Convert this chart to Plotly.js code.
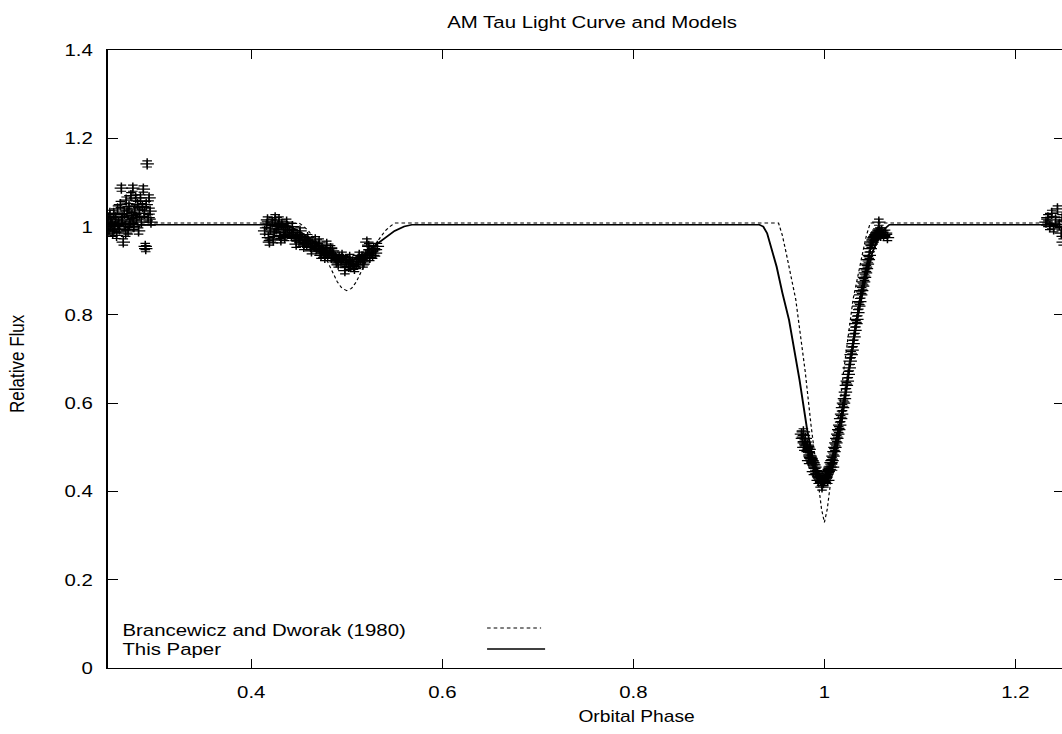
<!DOCTYPE html>
<html>
<head>
<meta charset="utf-8">
<script src="https://cdn.plot.ly/plotly-3.0.1.min.js"></script>
<style>
html,body{margin:0;padding:0;overflow:hidden;background:#fff;width:1062px;height:734px;}
#chart{width:892px;height:734px;transform:scaleX(1.2);transform-origin:0 0;}
</style>
</head>
<body>
<div id="chart"></div>
<script>
// ---- Observed light curve (phase, relative flux) ----
var obsPhaseA = [0.250,0.251,0.252,0.253,0.254,0.255,0.256,0.257,0.258,0.259,0.260,0.261,0.262,0.263,0.264,0.265,0.266,0.267,0.268,0.269,0.270,0.271,0.272,0.273,0.274,0.275,0.276,0.277,0.278,0.279,0.280,0.281,0.282,0.283,0.284,0.285,0.286,0.287,0.288,0.289,0.2895,0.290,0.291,0.292,0.293,0.294,0.295,0.2525,0.2565,0.2605,0.2645,0.2685,0.2725,0.2765];
var obsFluxA  = [1.020,0.990,1.030,1.000,1.010,0.985,1.030,1.000,1.020,0.980,1.040,1.010,0.995,1.050,1.087,1.020,0.965,1.030,1.000,1.060,1.035,0.990,1.045,1.010,1.070,1.025,1.087,1.000,1.040,1.065,1.020,1.050,0.990,1.030,1.065,1.010,1.045,1.085,1.030,0.955,0.950,1.050,1.142,1.020,1.065,1.035,1.010,1.010,0.995,1.000,1.015,0.985,1.005,1.015];

var obsPhaseB = [0.414,0.416,0.418,0.420,0.422,0.424,0.426,0.428,0.430,0.432,0.434,0.436,0.438,0.440,0.442,0.444,0.446,0.448,0.450,0.452,0.454,0.456,0.458,0.460,0.462,0.464,0.466,0.468,0.470,0.472,0.474,0.476,0.478,0.480,0.482,0.484,0.486,0.488,0.490,0.492,0.494,0.496,0.498,0.500,0.502,0.504,0.506,0.508,0.510,0.512,0.514,0.516,0.518,0.520,0.521,0.522,0.524,0.526,0.528,0.530,0.532,0.417,0.423,0.429,0.435,0.471,0.477,0.483,0.489,
                 0.443,0.447,0.451,0.455,0.459,0.463,0.467,0.473,0.479,0.485,0.491,0.495,0.499,0.503,0.507,0.513,0.517,0.523,0.527,0.419,0.425,0.431,0.437];
var obsFluxB  = [0.990,1.005,0.975,0.995,1.010,0.985,0.995,1.000,0.980,1.005,0.995,0.985,1.000,0.990,0.980,0.985,0.975,0.980,0.970,0.975,0.965,0.970,0.960,0.965,0.955,0.960,0.955,0.950,0.955,0.945,0.950,0.940,0.945,0.935,0.940,0.930,0.935,0.930,0.925,0.930,0.920,0.925,0.900,0.920,0.910,0.915,0.920,0.905,0.915,0.920,0.925,0.930,0.920,0.935,0.965,0.940,0.930,0.945,0.950,0.940,0.955,1.015,0.970,1.015,0.975,0.965,0.930,0.950,0.920,
                 1.000,0.960,0.990,0.955,0.975,0.945,0.970,0.935,0.960,0.945,0.915,0.935,0.925,0.930,0.910,0.935,0.915,0.955,0.935,0.965,1.020,0.970,1.010];

var obsPhaseC = [0.976,0.977,0.978,0.979,0.980,0.981,0.982,0.983,0.984,0.985,0.986,0.987,0.988,0.989,0.990,0.991,0.992,0.993,0.994,0.995,0.996,0.997,0.998,0.999,1.000,1.001,1.002,1.003,1.004,1.005,1.006,1.007,1.008,1.009,1.010,1.011,1.012,1.013,1.014,1.015,1.016,1.017,1.018,1.019,1.020,1.021,1.022,1.023,1.024,1.025,1.026,1.027,1.028,1.029,1.030,1.031,1.032,1.033,1.034,1.035,1.036,1.037,1.038,1.039,1.040,1.041,1.042,1.043,1.044,1.045,1.046,1.047,1.048,1.049,1.050,1.051,1.052,1.053,1.054,1.055,1.056,1.057,1.058,1.059,1.060,1.062,1.064,1.066,1.057,0.9785,0.9835,0.9885,0.9935,0.9975,1.0035,1.0085];
var obsFluxC  = [0.530,0.520,0.535,0.510,0.520,0.500,0.505,0.490,0.495,0.480,0.475,0.470,0.465,0.460,0.455,0.445,0.440,0.440,0.435,0.430,0.425,0.420,0.425,0.420,0.425,0.430,0.435,0.440,0.445,0.450,0.455,0.465,0.470,0.480,0.490,0.500,0.510,0.520,0.530,0.540,0.550,0.565,0.575,0.590,0.600,0.610,0.625,0.640,0.650,0.665,0.680,0.695,0.710,0.720,0.735,0.750,0.765,0.780,0.790,0.805,0.820,0.830,0.845,0.855,0.865,0.875,0.885,0.895,0.905,0.915,0.925,0.935,0.950,0.960,0.965,0.970,0.975,0.978,0.980,0.985,0.988,0.985,0.990,0.980,0.990,0.980,0.985,0.975,1.010,0.500,0.470,0.445,0.425,0.410,0.425,0.455];

var obsPhaseD = [1.232,1.234,1.236,1.238,1.240,1.242,1.244,1.246,1.248,1.249,1.250];
var obsFluxD  = [1.010,1.020,1.000,1.030,0.995,1.015,1.040,1.005,0.985,1.020,0.965];

var obsErr = 0.007;

// ---- Brancewicz and Dworak (1980) model ----
var bdPhase = [0.25,0.450,0.455,0.46,0.47,0.48,0.49,0.495,0.50,0.505,0.51,0.52,0.53,0.54,0.545,0.55,0.952,0.956,0.960,0.970,0.980,0.986,0.993,0.997,1.000,1.003,1.007,1.014,1.020,1.030,1.040,1.044,1.048,1.25];
var bdFlux  = [1.008,1.008,1.000,0.990,0.960,0.920,0.875,0.860,0.855,0.860,0.875,0.920,0.960,0.990,1.000,1.008,1.008,0.980,0.940,0.835,0.670,0.550,0.430,0.360,0.330,0.360,0.430,0.550,0.670,0.835,0.940,0.980,1.008,1.008];

// ---- This Paper model ----
var tpPhase = [0.25,0.430,0.440,0.450,0.460,0.470,0.480,0.490,0.500,0.510,0.520,0.530,0.540,0.550,0.560,0.568,0.932,0.936,0.940,0.945,0.950,0.956,0.963,0.974,0.982,0.988,0.994,1.000,1.005,1.010,1.018,1.026,1.034,1.042,1.050,1.056,1.062,1.068,1.25];
var tpFlux  = [1.004,1.004,1.000,0.990,0.975,0.958,0.942,0.928,0.922,0.926,0.940,0.958,0.975,0.990,1.000,1.004,1.004,1.000,0.985,0.950,0.909,0.850,0.788,0.652,0.539,0.475,0.435,0.420,0.430,0.465,0.555,0.675,0.785,0.870,0.940,0.972,0.993,1.004,1.004];

var legendLabels = ["Brancewicz and Dworak (1980)", "This Paper"];
var titleText = "AM Tau Light Curve and Models";
var xTitle = "Orbital Phase";
var yTitle = "Relative Flux";

var FONT = "Liberation Sans, Arial, Helvetica, sans-serif";
var FS = 17;

function obsTrace(px, fy) {
  return {
    x: px, y: fy, type: "scatter", mode: "markers", showlegend: false,
    marker: {symbol: "cross-thin-open", size: 8, color: "#000", line: {color: "#000", width: 1.25}},
    error_y: {type: "constant", value: obsErr, width: 4, thickness: 1.2, color: "#000"},
    hoverinfo: "skip"
  };
}

var traces = [
  {x: bdPhase, y: bdFlux, type: "scatter", mode: "lines", showlegend: false, hoverinfo: "skip",
   line: {color: "#000", width: 1, dash: "3px,2.5px"}},
  {x: tpPhase, y: tpFlux, type: "scatter", mode: "lines", showlegend: false, hoverinfo: "skip",
   line: {color: "#000", width: 1.6}},
  obsTrace(obsPhaseA, obsFluxA),
  obsTrace(obsPhaseB, obsFluxB),
  obsTrace(obsPhaseC, obsFluxC),
  obsTrace(obsPhaseD, obsFluxD)
];

// pixel helpers (final picture coordinates -> paper fractions)
function px(x) { return (x - 108) / 955; }
function py(y) { return (668 - y) / 618; }

var layout = {
  width: 892, height: 734,
  margin: {l: 90, r: 6, t: 50, b: 66},
  paper_bgcolor: "#fff", plot_bgcolor: "#fff",
  font: {family: FONT, size: FS, color: "#000"},
  hovermode: false,
  title: {text: titleText, font: {family: FONT, size: FS, color: "#000"},
          x: px(592), xref: "paper", xanchor: "center", y: 1 - 22/734, yref: "container", yanchor: "middle"},
  showlegend: false,
  xaxis: {
    range: [0.25, 1.25], tickvals: [0.4, 0.6, 0.8, 1.0, 1.2], ticktext: ["0.4","0.6","0.8","1","1.2"],
    ticks: "inside", ticklen: 9, tickwidth: 1, tickcolor: "#000",
    showline: true, linecolor: "#000", linewidth: 1.3, mirror: "allticks",
    showgrid: false, zeroline: false, ticklabelstandoff: 8,
    tickfont: {family: FONT, size: FS, color: "#000"}
  },
  yaxis: {
    range: [0, 1.4], tickvals: [0, 0.2, 0.4, 0.6, 0.8, 1.0, 1.2, 1.4], ticktext: ["0","0.2","0.4","0.6","0.8","1","1.2","1.4"],
    ticks: "inside", ticklen: 8, tickwidth: 1, tickcolor: "#000",
    showline: true, linecolor: "#000", linewidth: 1.3, mirror: "allticks",
    showgrid: false, zeroline: false, ticklabelstandoff: 8,
    tickfont: {family: FONT, size: FS, color: "#000"}
  },
  annotations: [
    {text: xTitle, xref: "paper", yref: "paper", x: px(636), y: py(717),
     xanchor: "center", yanchor: "middle", showarrow: false, font: {family: FONT, size: 16, color: "#000"}},
    {text: yTitle, xref: "paper", yref: "paper", x: px(18), y: py(363), textangle: -90,
     xanchor: "center", yanchor: "middle", showarrow: false, font: {family: FONT, size: FS, color: "#000"}},
    {text: legendLabels[0], xref: "paper", yref: "paper", x: px(120), y: py(630),
     xanchor: "left", yanchor: "middle", showarrow: false, font: {family: FONT, size: FS, color: "#000"}},
    {text: legendLabels[1], xref: "paper", yref: "paper", x: px(120), y: py(649),
     xanchor: "left", yanchor: "middle", showarrow: false, font: {family: FONT, size: FS, color: "#000"}}
  ],
  shapes: [
    {type: "line", xref: "paper", yref: "paper", x0: px(487), x1: px(541),
     y0: py(628), y1: py(628), line: {color: "#000", width: 1, dash: "3px,2.5px"}},
    {type: "line", xref: "paper", yref: "paper", x0: px(487), x1: px(545),
     y0: py(649), y1: py(649), line: {color: "#000", width: 1.6}}
  ]
};

Plotly.newPlot("chart", traces, layout, {displayModeBar: false, responsive: false, staticPlot: true});
</script>
</body>
</html>
